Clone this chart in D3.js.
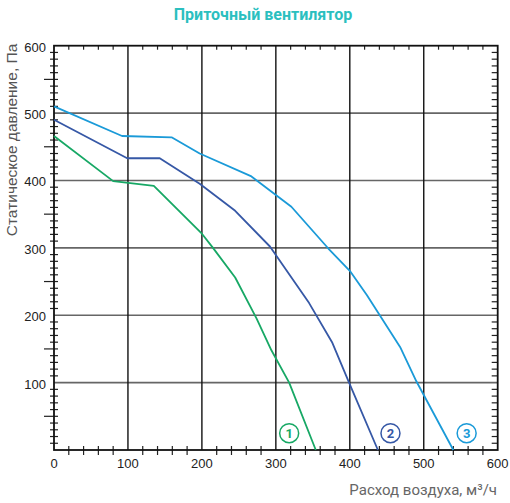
<!DOCTYPE html>
<html><head><meta charset="utf-8">
<script src="https://cdn.jsdelivr.net/npm/d3@7"></script>
<style>body{margin:0;background:#fff;}svg{display:block;}</style>
</head><body><svg id="c" width="510" height="503"></svg>
<script>
const title = "Приточный вентилятор";
const xLabel = "Расход воздуха, м³/ч";
const yLabel = "Статическое давление, Па";
const xTicks = [0,100,200,300,400,500,600];
const yTicks = [100,200,300,400,500,600];
const seriesNames = ["1","2","3"];
const seriesColors = ["#17a865","#3658a6","#1a9ad8"];
const series1 = [[0,466],[80,399],[135,392],[200,321],[215,300],[245,256],[274,195],[294,148],[318,100],[354,0]];
const series2 = [[0,490],[99,433],[143,433],[197,395],[245,355],[292,302],[345,218],[376,160],[399,100],[438,0]];
const series3 = [[0,510],[92,466],[159,464],[197,440],[267,406],[321,361],[371,299],[400,266],[423,230],[468,153],[490,102],[540,0]];
const labelPos = [[318,25],[455,25],[558,25]];

const svg = d3.select("#c");
const L=54,R=497.7,T=45.7,B=450;
const x = d3.scaleLinear().domain([0,600]).range([L,R]);
const y = d3.scaleLinear().domain([0,600]).range([B,T]);

svg.append("text").attr("x",263).attr("y",20).attr("text-anchor","middle")
  .attr("font-family","Roboto").attr("font-weight","bold").attr("font-size",16)
  .attr("fill","#2bbfbf").text(title);

// grid
const g = svg.append("g");
g.selectAll("line.h").data(yTicks.filter(v=>v>0&&v<600)).join("line")
  .attr("x1",L).attr("x2",R).attr("y1",d=>y(d)).attr("y2",d=>y(d))
  .attr("stroke","#666").attr("stroke-width",1.6);
g.selectAll("line.v").data(xTicks.filter(v=>v>0&&v<600)).join("line")
  .attr("class","v").attr("y1",T).attr("y2",B).attr("x1",d=>x(d)).attr("x2",d=>x(d))
  .attr("stroke","#111").attr("stroke-width",1.4);

// minor ticks
const xMinor = d3.range(20,600,20).filter(v=>v%100!==0);
const yMinor = d3.range(10,600,10).filter(v=>v%100!==0);
svg.append("g").selectAll("line").data(xMinor).join("line")
  .attr("x1",d=>x(d)).attr("x2",d=>x(d)).attr("y1",B-4).attr("y2",B+5)
  .attr("stroke","#222").attr("stroke-width",1.2);
svg.append("g").selectAll("line").data(xMinor).join("line")
  .attr("x1",d=>x(d)).attr("x2",d=>x(d)).attr("y1",T).attr("y2",T+4)
  .attr("stroke","#222").attr("stroke-width",1.2);
svg.append("g").selectAll("line").data(yMinor).join("line")
  .attr("x1",d=>d%50===0?L-10:L-4).attr("x2",L+4).attr("y1",d=>y(d)).attr("y2",d=>y(d))
  .attr("stroke","#222").attr("stroke-width",1.2);
svg.append("g").selectAll("line").data(yMinor).join("line")
  .attr("x1",R-6).attr("x2",R).attr("y1",d=>y(d)).attr("y2",d=>y(d))
  .attr("stroke","#222").attr("stroke-width",1.2);

// frame
svg.append("rect").attr("x",L).attr("y",T).attr("width",R-L).attr("height",B-T)
  .attr("fill","none").attr("stroke","#111").attr("stroke-width",1.8);

// tick labels
svg.append("g").selectAll("text").data(xTicks).join("text")
  .attr("x",d=>x(d)).attr("y",B+18).attr("text-anchor","middle")
  .attr("font-family","Liberation Sans, Arial").attr("font-size",13).attr("fill","#222").text(d=>d);
svg.append("g").selectAll("text").data(yTicks).join("text")
  .attr("x",L-8).attr("y",d=>y(d)+6).attr("text-anchor","end")
  .attr("font-family","Liberation Sans, Arial").attr("font-size",13).attr("fill","#222").text(d=>d);

svg.append("text").attr("transform","translate(17,140) rotate(-90)").attr("text-anchor","middle")
  .attr("font-family","Liberation Sans, Arial").attr("font-size",15.5).attr("fill","#555").text(yLabel);
svg.append("text").attr("x",497).attr("y",495).attr("text-anchor","end")
  .attr("font-family","Roboto").attr("font-size",15).attr("fill","#666").text(xLabel);

// curves
const line = d3.line().x(d=>x(d[0])).y(d=>y(d[1]));
[series1,series2,series3].forEach((s,i)=>{
  svg.append("path").attr("d",line(s)).attr("fill","none")
    .attr("stroke",seriesColors[i]).attr("stroke-width",1.8).attr("stroke-linejoin","round");
});
// circle labels
seriesNames.forEach((n,i)=>{
  const [cx,cy]=labelPos[i];
  svg.append("circle").attr("cx",x(cx)).attr("cy",y(cy)).attr("r",9.5)
    .attr("fill","#fff").attr("stroke",seriesColors[i]).attr("stroke-width",1.5);
  svg.append("text").attr("x",x(cx)).attr("y",y(cy)+5).attr("text-anchor","middle")
    .attr("font-family","Roboto").attr("font-weight","bold").attr("font-size",13)
    .attr("fill",seriesColors[i]).text(n);
});
</script></body></html>
